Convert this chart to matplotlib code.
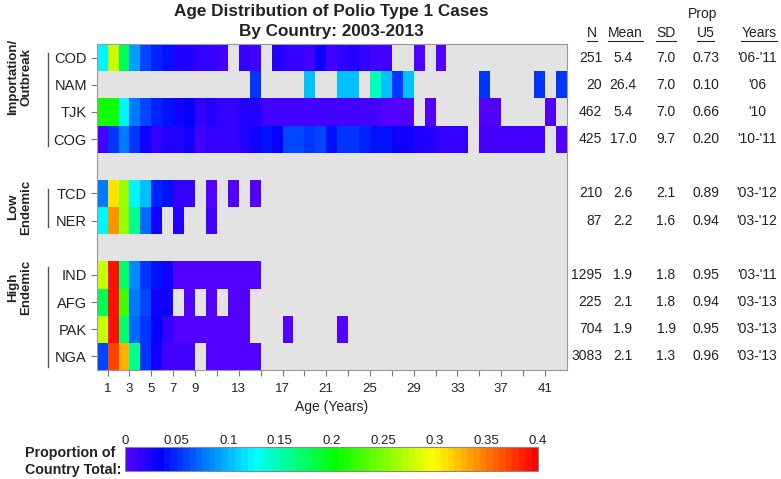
import numpy as np
import matplotlib.pyplot as plt
from matplotlib.colors import LinearSegmentedColormap
from matplotlib import transforms
from matplotlib.lines import Line2D

plt.rcParams['font.family'] = ['Liberation Sans', 'DejaVu Sans']

nan = np.nan
n_ages = 43

# proportion of cases per 1-year age band (age 0-1, 1-2, ...), nan = no cases
cod = [0.12, 0.28, 0.18, 0.09, 0.06, 0.045, 0.04, 0.02, 0.02, 0.015, 0.015, 0.008,
       nan, 0.015, 0.012, nan, 0.02, 0.015, 0.015, 0.008, 0.025, 0.012, 0.018, 0.02,
       0.015, 0.012, 0.008, nan, nan, 0.004, nan, 0.004]
nam = [nan] * 14 + [0.05, nan, nan, nan, nan, 0.1, nan, nan, 0.1, 0.1, nan, 0.15, 0.1,
       0.05, 0.1, nan, nan, nan, nan, nan, nan, 0.05, nan, nan, nan, nan, 0.05, nan, 0.05]
tjk = [0.21, 0.21, 0.12, 0.08, 0.06, 0.045, 0.04, 0.03, 0.035, 0.015, 0.02, 0.015,
       0.015, 0.02, 0.02, 0.012, 0.01, 0.01, 0.01, 0.008, 0.01, 0.008, 0.01, 0.008,
       0.008, 0.008, 0.006, 0.006, 0.004, nan, 0.004, nan, nan, nan, nan, 0.004, 0.004,
       nan, nan, nan, nan, 0.004]
cog = [0.012, 0.05, 0.08, 0.055, 0.025, 0.015, 0.02, 0.02, 0.03, 0.01, 0.015, 0.015,
       0.015, 0.02, 0.03, 0.04, 0.035, 0.06, 0.06, 0.05, 0.06, 0.04, 0.055, 0.055,
       0.045, 0.04, 0.04, 0.03, 0.03, 0.02, 0.02, 0.015, 0.015, 0.015, nan, 0.007,
       0.007, 0.007, 0.007, 0.007, 0.007, nan, 0.005]
tcd = [0.08, 0.31, 0.26, 0.12, 0.1, 0.045, 0.04, 0.015, 0.015, nan, 0.005, nan, 0.005,
       nan, 0.005]
ner = [0.12, 0.34, 0.26, 0.16, 0.07, 0.03, nan, 0.02, nan, nan, 0.012]
ind = [0.28, 0.39, 0.17, 0.085, 0.055, 0.04, 0.025] + [0.005] * 8
afg = [0.18, 0.39, 0.23, 0.08, 0.06, 0.025, 0.03, nan, 0.005, nan, 0.005, nan, 0.005, 0.005]
pak = [0.28, 0.39, 0.17, 0.07, 0.055, 0.035, 0.015] + [0.005] * 7 + \
      [nan, nan, nan, 0.003, nan, nan, nan, nan, 0.003]
nga = [0.06, 0.37, 0.33, 0.16, 0.05, 0.03, 0.008, 0.008, 0.008, nan] + [0.005] * 5

rows = ['COD', 'NAM', 'TJK', 'COG', '', 'TCD', 'NER', '', 'IND', 'AFG', 'PAK', 'NGA']
row_data = [cod, nam, tjk, cog, [], tcd, ner, [], ind, afg, pak, nga]

n_cases = ['251', '20', '462', '425', '', '210', '87', '', '1295', '225', '704', '3083']
mean_age = ['5.4', '26.4', '5.4', '17.0', '', '2.6', '2.2', '', '1.9', '2.1', '1.9', '2.1']
sd_age = ['7.0', '7.0', '7.0', '9.7', '', '2.1', '1.6', '', '1.8', '1.8', '1.9', '1.3']
prop_u5 = ['0.73', '0.10', '0.66', '0.20', '', '0.89', '0.94', '', '0.95', '0.94', '0.95', '0.96']
years = ["'06-'11", "'06", "'10", "'10-'11", '', "'03-'12", "'03-'12", '',
         "'03-'11", "'03-'13", "'03-'13", "'03-'13"]

groups = ['Importation/\nOutbreak', 'Low\nEndemic', 'High\nEndemic']
group_text_y = [1.22, 6.0, 8.95]
group_line_span = [(0.33, 3.75), (5.34, 6.74), (8.2, 11.89)]

W, H = 781, 479
def fx(p):
    return p / W
def fy(p):
    return 1 - p / H

grid = np.full((len(rows), n_ages), nan)
for i, vals in enumerate(row_data):
    grid[i, :len(vals)] = vals
grid = np.ma.masked_invalid(grid)

cmap = LinearSegmentedColormap.from_list(
    'polio', [(0, '#5200ff'), (0.08, '#0000ff'), (0.31, '#00ffff'),
              (0.51, '#00ff00'), (0.75, '#ffff00'), (1.0, '#ff0000')], N=64)

fig = plt.figure(figsize=(7.81, 4.79), dpi=100)
ax = fig.add_axes([fx(96.7), fy(370), fx(566.7) - fx(96.7), fy(44) - fy(370)])
ax.set_facecolor('#e3e3e3')
mesh = ax.pcolormesh(np.arange(n_ages + 1), np.arange(len(rows) + 1), grid,
                     cmap=cmap, vmin=0, vmax=0.4)
ax.set_xlim(0, n_ages)
ax.set_ylim(len(rows), 0)

tick_col = '#777777'
for s in ax.spines.values():
    s.set_color('#999999')
    s.set_linewidth(0.8)

yt = [i + 0.5 for i, r in enumerate(rows) if r]
ax.set_yticks(yt)
ax.set_yticklabels([r for r in rows if r], fontsize=10.5, color='#222222')
xt = list(range(1, 42, 2))
ax.set_xticks(xt)
shown = [1, 3, 5, 7, 9, 13, 17, 21, 25, 29, 33, 37, 41]
ax.set_xticklabels([str(v) if v in shown else '' for v in xt], fontsize=9.5, color='#222222')
ax.tick_params(axis='both', color=tick_col, length=4, width=0.8, pad=3)
ax.tick_params(axis='x', pad=5)
ax.set_xlabel('Age (Years)', fontsize=10, color='#222222', labelpad=4)

fig.text(fx(331.7), fy(11.7), 'Age Distribution of Polio Type 1 Cases',
         ha='center', va='center', fontsize=12.3, fontweight='bold', color='#222222')
fig.text(fx(331.7), fy(31.7), 'By Country: 2003-2013',
         ha='center', va='center', fontsize=12.3, fontweight='bold', color='#222222')

# group brackets and labels on the left
blend = transforms.blended_transform_factory(fig.transFigure, ax.transData)
for name, ty, (y0, y1) in zip(groups, group_text_y, group_line_span):
    fig.add_artist(Line2D([fx(48), fx(48)], [y0, y1], transform=blend,
                          color='#555555', lw=1))
    fig.text(fx(20), ty, name, transform=blend, rotation=90, ha='center', va='center',
             multialignment='center', fontsize=9.5, fontweight='bold', color='#222222',
             linespacing=1.1)

# summary table on the right
cols = [(n_cases, 602, 'right'), (mean_age, 623, 'center'), (sd_age, 666, 'center'),
        (prop_u5, 706, 'center'), (years, 757, 'center')]
for vals, x, ha in cols:
    for i, v in enumerate(vals):
        if v:
            fig.text(fx(x), i + 0.5, v, transform=blend, ha=ha, va='center',
                     fontsize=10, color='#222222')

headers = [('N', 591.5), ('Mean', 625.5), ('SD', 666), ('U5', 705.5), ('Years', 759)]
head_txt = []
for h, x in headers:
    head_txt.append(fig.text(fx(x), fy(33), h, ha='center', va='center',
                             fontsize=10, color='#222222'))
fig.text(fx(703), fy(14), 'Prop', ha='center', va='center', fontsize=10, color='#222222')

fig.canvas.draw()
rend = fig.canvas.get_renderer()
for t in head_txt:
    bb = t.get_window_extent(rend)
    fig.add_artist(Line2D([bb.x0 / W, bb.x1 / W], [fy(41), fy(41)],
                          transform=fig.transFigure, color='#222222', lw=0.8))

# colorbar
cax = fig.add_axes([fx(125), fy(471), fx(538) - fx(125), fy(447) - fy(471)])
cb = fig.colorbar(mesh, cax=cax, orientation='horizontal')
cb.outline.set_edgecolor('#888888')
cb.outline.set_linewidth(0.8)
cb_ticks = [0, 0.05, 0.1, 0.15, 0.2, 0.25, 0.3, 0.35, 0.4]
cax.xaxis.set_ticks_position('top')
cax.set_xticks(cb_ticks)
cax.set_xticklabels(['0', '0.05', '0.1', '0.15', '0.2', '0.25', '0.3', '0.35', '0.4'],
                    fontsize=9.5, color='#222222')
cax.tick_params(axis='x', length=0, pad=0)
fig.text(fx(25), fy(461.5), 'Proportion of\nCountry Total:', ha='left', va='center',
         fontsize=10.3, fontweight='bold', color='#222222', linespacing=1.2)

fig.savefig('out.png', dpi=100)
